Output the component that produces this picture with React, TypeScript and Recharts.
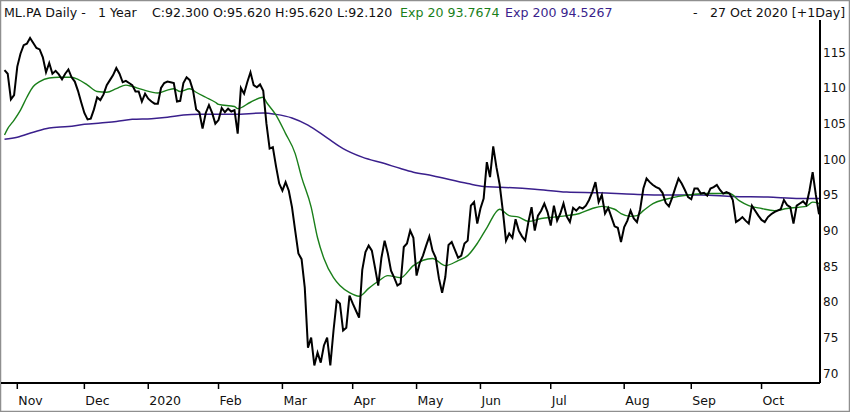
import React from 'react';
import { LineChart, Line, XAxis, YAxis } from 'recharts';

// trading-day index (0 = 28 Oct 2019 ... 255 = 27 Oct 2020)
const closeDays = Array.from({ length: 256 }, (_, i) => i);
const closeValues = [
  112.5, 112.0, 108.4, 109.0, 113.0, 114.8, 116.0, 116.2, 117.0, 116.3,
  115.6, 115.4, 114.3, 112.2, 113.5, 112.0, 112.4, 111.9, 111.2, 112.0,
  112.6, 111.5, 110.9, 109.6, 108.0, 106.5, 105.6, 105.7, 107.0, 108.7,
  108.3, 109.1, 110.4, 111.1, 111.8, 112.8, 112.0, 110.8, 111.0, 110.7,
  110.4, 109.5, 109.5, 108.1, 109.2, 108.5, 108.1, 107.8, 107.8, 110.0,
  110.7, 110.9, 110.8, 110.7, 108.1, 108.2, 110.7, 111.5, 111.1, 109.7,
  107.0, 106.6, 104.3, 106.5, 107.6, 106.5, 105.0, 105.5, 107.2, 106.6,
  107.1, 106.7, 106.9, 103.6, 110.0, 109.2, 110.8, 112.2, 110.4, 110.1,
  110.5, 109.6, 105.0, 101.5, 101.7, 99.0, 96.6, 95.6, 96.8, 95.6,
  93.3, 90.0, 86.8, 86.0, 82.0, 73.6, 75.0, 71.1, 72.9, 71.5,
  73.9, 75.0, 71.1, 76.0, 80.2, 79.8, 76.0, 76.4, 80.9, 79.8,
  78.8, 77.8, 84.5, 87.0, 87.9, 87.2, 84.8, 82.3, 86.2, 88.6,
  86.8, 84.4, 83.4, 82.3, 82.6, 87.7, 88.2, 90.0, 89.0, 83.7,
  85.5, 86.5, 87.9, 89.2, 87.2, 86.2, 83.3, 81.3, 83.5, 88.0,
  88.4, 87.3, 86.2, 86.5, 88.2, 88.6, 93.5, 94.0, 91.0, 93.1,
  94.5, 99.6, 97.5, 101.8, 98.9, 96.5, 92.8, 88.6, 89.6, 89.0,
  91.6, 90.0, 89.2, 88.6, 91.2, 93.3, 90.0, 92.1, 92.8, 93.8,
  92.6, 90.7, 93.5, 91.4, 92.4, 93.8, 92.0, 91.2, 93.2, 92.8,
  93.3, 93.1, 93.5, 94.3, 95.4, 96.8, 94.0, 95.0, 92.4, 93.2,
  91.9, 90.6, 90.4, 88.4, 90.5, 91.4, 92.8, 91.7, 91.2, 93.0,
  95.9, 97.3, 96.8, 96.4, 96.1, 95.9, 95.3, 93.9, 93.4, 94.6,
  96.0, 97.3, 96.6, 95.7, 94.7, 94.4, 95.9, 95.9, 95.2, 95.3,
  94.9, 95.9, 96.1, 96.4, 95.7, 95.2, 95.4, 95.2, 94.3, 91.2,
  91.5, 91.9, 91.4, 91.0, 93.5, 92.8, 92.1, 91.5, 91.2, 91.9,
  92.3, 92.6, 92.8, 93.0, 94.3, 93.6, 93.3, 91.0, 93.5, 93.8,
  94.1, 93.6, 95.6, 98.2, 95.0, 92.3,
];

const ema20Days = [
  0, 1, 3, 5, 7, 9, 11, 14, 17, 21, 23, 26, 29, 32, 35, 38, 40, 43, 48, 51,
  53, 55, 58, 60, 63, 66, 67, 72, 73, 77, 81, 82, 85, 88, 91, 93, 96, 98, 100, 103,
  105, 108, 111, 114, 117, 120, 124, 128, 134, 138, 142, 145, 148, 151, 155, 158, 161, 164, 168, 172,
  176, 180, 184, 187, 191, 193, 196, 198, 200, 203, 207, 211, 216, 220, 224, 227, 230, 233, 237, 241,
  245, 249, 251, 253, 255,
];
const ema20Values = [
  103.4, 104.3, 105.5, 106.9, 108.7, 110.2, 110.9, 111.4, 111.5, 111.5, 111.2, 110.4, 109.5, 109.4, 109.9, 110.4, 110.2, 109.8, 109.3, 109.7,
  109.9, 109.5, 109.9, 109.4, 108.7, 108.0, 107.7, 107.4, 107.1, 108.0, 108.7, 108.0, 106.2, 103.6, 100.8, 97.5, 93.3, 89.0, 86.1, 83.4,
  82.3, 81.3, 80.8, 81.9, 82.9, 83.7, 83.4, 85.1, 86.1, 85.1, 85.8, 86.5, 88.2, 90.4, 93.0, 92.1, 91.9, 91.3, 91.7, 91.9,
  92.1, 92.4, 93.1, 93.4, 93.0, 92.4, 92.0, 92.1, 92.8, 93.8, 94.4, 94.8, 95.1, 95.2, 95.2, 95.2, 94.2, 93.5, 93.1, 92.8,
  93.1, 93.3, 93.4, 94.0, 93.8,
];

const ema200Days = [
  0, 4, 9, 14, 20, 25, 30, 35, 40, 46, 51, 56, 61, 72, 81, 85, 90, 95, 101, 106,
  112, 119, 124, 128, 134, 145, 150, 155, 166, 176, 186, 197, 207, 218, 228, 239, 249, 255,
];
const ema200Values = [
  102.8, 103.1, 103.8, 104.4, 104.6, 104.9, 105.1, 105.3, 105.6, 105.7, 105.9, 106.2, 106.3, 106.3, 106.5, 106.3, 105.8, 104.8, 103.0, 101.5,
  100.3, 99.4, 98.7, 98.2, 97.7, 96.6, 96.2, 96.1, 95.8, 95.4, 95.3, 95.1, 95.0, 95.0, 94.8, 94.7, 94.5, 94.5,
];

const monthTickDays = [4, 25, 45, 67, 87, 109, 129, 149, 171, 194, 215, 237];
const monthLabels = ['Nov', 'Dec', '2020', 'Feb', 'Mar', 'Apr', 'May', 'Jun', 'Jul', 'Aug', 'Sep', 'Oct'];
const priceTicks = [70, 75, 80, 85, 90, 95, 100, 105, 110, 115];

const closeData = closeDays.map((day, i) => ({ day, close: closeValues[i] }));
const ema20Data = ema20Days.map((day, i) => ({ day, ema20: ema20Values[i] }));
const ema200Data = ema200Days.map((day, i) => ({ day, ema200: ema200Values[i] }));

const FONT = '"DejaVu Sans", Verdana, sans-serif';

function MonthTick(props: any) {
  const { x, y, payload } = props;
  const idx = monthTickDays.indexOf(payload.value);
  return (
    <text x={x + 1} y={y + 14} textAnchor="start" fontFamily={FONT} fontSize={12.5} fill="#111">
      {monthLabels[idx]}
    </text>
  );
}

function PriceTick(props: any) {
  const { x, y, payload } = props;
  return (
    <text x={x + 3} y={y + 4.5} textAnchor="start" fontFamily={FONT} fontSize={12} fill="#111">
      {payload.value}
    </text>
  );
}

export default function App() {
  return (
    <div style={{ position: 'relative', width: 850, height: 412, background: '#fff' }}>
      <style>{`body{margin:0}`}</style>
      <svg width={850} height={412} style={{ position: 'absolute', left: 0, top: 0 }}>
        <rect x={0.5} y={0.5} width={849} height={411} fill="#fff" stroke="#8f8f8f" strokeWidth={1.5} />
        <g fontFamily={FONT} fontSize={12.6}>
          <text x={4} y={17} fill="#111">ML.PA Daily -</text>
          <text x={98} y={17} fill="#111">1 Year</text>
          <text x={152} y={17} fill="#111">C:92.300 O:95.620 H:95.620 L:92.120</text>
          <text x={400} y={17} fill="#1a7f1a">Exp 20 93.7674</text>
          <text x={505} y={17} fill="#3a1f8c">Exp 200 94.5267</text>
          <text x={693} y={17} fill="#111">-</text>
          <text x={710} y={17} fill="#111">27 Oct 2020 [+1Day]</text>
        </g>
      </svg>
      <div style={{ position: 'absolute', left: 0, top: 0 }}>
        <LineChart width={850} height={412} margin={{ top: 20, right: 0, bottom: 0, left: 1 }}>
          <XAxis
            type="number"
            dataKey="day"
            domain={[-1.1, 255.3]}
            ticks={monthTickDays}
            allowDataOverflow
            height={29}
            tick={<MonthTick />}
            tickSize={6}
            tickLine={{ stroke: '#000', strokeWidth: 1.5 }}
            axisLine={{ stroke: '#000', strokeWidth: 2 }}
          />
          <YAxis
            orientation="right"
            domain={[68.64, 119.53]}
            ticks={priceTicks}
            allowDataOverflow
            width={30}
            tickLine={false}
            tickSize={0}
            tickMargin={0}
            tick={<PriceTick />}
            axisLine={{ stroke: '#000', strokeWidth: 2 }}
          />
          <Line data={ema200Data} dataKey="ema200" type="monotone" stroke="#3a1f8c" strokeWidth={1.5} dot={false} isAnimationActive={false} />
          <Line data={ema20Data} dataKey="ema20" type="monotone" stroke="#1a7f1a" strokeWidth={1.4} dot={false} isAnimationActive={false} />
          <Line data={closeData} dataKey="close" type="linear" stroke="#000" strokeWidth={2} dot={false} isAnimationActive={false} />
        </LineChart>
      </div>
    </div>
  );
}
